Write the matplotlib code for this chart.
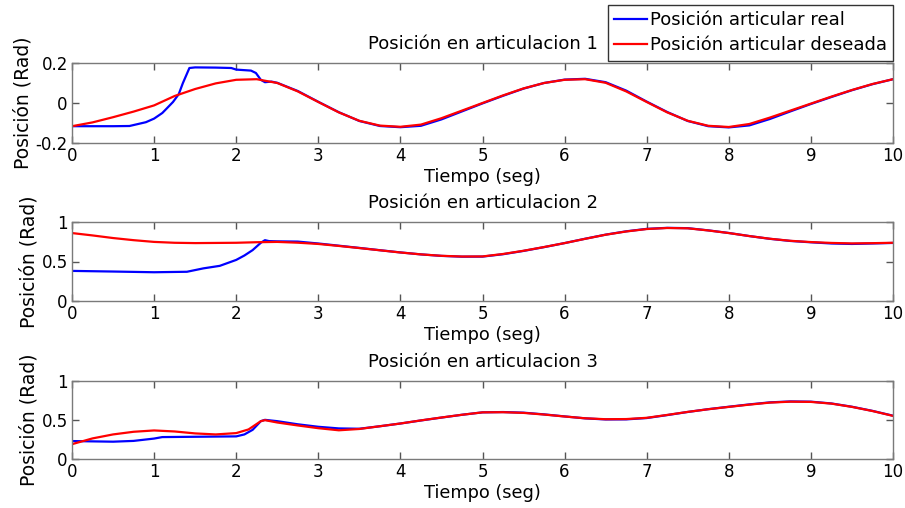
import numpy as np
import matplotlib
matplotlib.use("Agg")
import matplotlib.pyplot as plt

# ---------------- data ----------------
t_grid = [0, 0.25, 0.5, 0.75, 1.0, 1.25, 1.5, 1.75, 2.0, 2.25, 2.5, 2.75, 3.0, 3.25, 3.5,
          3.75, 4.0, 4.25, 4.5, 4.75, 5.0, 5.25, 5.5, 5.75, 6.0, 6.25, 6.5, 6.75, 7.0,
          7.25, 7.5, 7.75, 8.0, 8.25, 8.5, 8.75, 9.0, 9.25, 9.5, 9.75, 10.0]

# Joint 1
des1 = [-0.116, -0.097, -0.071, -0.043, -0.012, 0.035, 0.070, 0.098, 0.116, 0.119, 0.100,
        0.058, 0.005, -0.047, -0.089, -0.113, -0.119, -0.108, -0.076, -0.038, 0.000,
        0.038, 0.073, 0.100, 0.116, 0.119, 0.101, 0.058, 0.005, -0.047, -0.089, -0.114,
        -0.120, -0.105, -0.073, -0.038, -0.003, 0.032, 0.065, 0.095, 0.119]
t_real1 = [0, 0.25, 0.5, 0.7, 0.9, 1.0, 1.1, 1.15, 1.23, 1.3, 1.35, 1.43, 1.5, 1.75, 1.94,
           2.0, 2.18, 2.24, 2.3, 2.35, 2.43, 2.5, 2.75, 3.0, 3.25, 3.5, 3.75, 4.0, 4.25,
           4.5, 4.75, 5.0, 5.25, 5.5, 5.75, 6.0, 6.25, 6.5, 6.75, 7.0, 7.25, 7.5, 7.75,
           8.0, 8.25, 8.5, 8.75, 9.0, 9.25, 9.5, 9.75, 10.0]
real1 = [-0.116, -0.116, -0.116, -0.115, -0.096, -0.078, -0.050, -0.029, 0.005, 0.044,
         0.099, 0.175, 0.178, 0.177, 0.175, 0.167, 0.162, 0.150, 0.116, 0.104, 0.107,
         0.101, 0.060, 0.006, -0.046, -0.090, -0.115, -0.121, -0.114, -0.082, -0.042,
         -0.002, 0.036, 0.072, 0.100, 0.117, 0.121, 0.104, 0.062, 0.007, -0.045, -0.090,
         -0.116, -0.122, -0.112, -0.080, -0.042, -0.005, 0.030, 0.064, 0.094, 0.119]

# Joint 2
des2 = [0.860, 0.830, 0.797, 0.770, 0.748, 0.737, 0.733, 0.735, 0.737, 0.744, 0.748,
        0.738, 0.722, 0.697, 0.670, 0.642, 0.614, 0.590, 0.572, 0.563, 0.564, 0.595,
        0.636, 0.683, 0.733, 0.787, 0.839, 0.880, 0.911, 0.924, 0.920, 0.893, 0.860,
        0.822, 0.788, 0.762, 0.746, 0.735, 0.729, 0.732, 0.737]
t_real2 = [0, 0.5, 1.0, 1.4, 1.6, 1.8, 2.0, 2.1, 2.2, 2.3, 2.35, 2.4, 2.5, 2.75, 3.0,
           3.25, 3.5, 3.75, 4.0, 4.25, 4.5, 4.75, 5.0, 5.25, 5.5, 5.75, 6.0, 6.25, 6.5,
           6.75, 7.0, 7.25, 7.5, 7.75, 8.0, 8.25, 8.5, 8.75, 9.0, 9.25, 9.5, 9.75, 10.0]
real2 = [0.381, 0.373, 0.364, 0.370, 0.413, 0.445, 0.520, 0.576, 0.644, 0.737, 0.770,
         0.758, 0.755, 0.752, 0.728, 0.700, 0.672, 0.643, 0.615, 0.590, 0.571, 0.561,
         0.562, 0.592, 0.634, 0.682, 0.733, 0.788, 0.840, 0.882, 0.913, 0.926, 0.922,
         0.894, 0.861, 0.822, 0.787, 0.760, 0.743, 0.728, 0.722, 0.728, 0.735]

# Joint 3
t_des3 = [0, 0.25, 0.5, 0.75, 1.0, 1.25, 1.5, 1.75, 2.0, 2.15, 2.3, 2.35, 2.5, 2.75, 3.0,
          3.25, 3.5, 3.75, 4.0, 4.25, 4.5, 4.75, 5.0, 5.25, 5.5, 5.75, 6.0, 6.25, 6.5,
          6.75, 7.0, 7.25, 7.5, 7.75, 8.0, 8.25, 8.5, 8.75, 9.0, 9.25, 9.5, 9.75, 10.0]
des3 = [0.190, 0.264, 0.315, 0.349, 0.366, 0.353, 0.328, 0.315, 0.332, 0.379, 0.485,
        0.498, 0.468, 0.430, 0.395, 0.368, 0.385, 0.420, 0.455, 0.495, 0.532, 0.567,
        0.598, 0.600, 0.591, 0.570, 0.545, 0.522, 0.510, 0.512, 0.528, 0.565, 0.604,
        0.638, 0.668, 0.697, 0.723, 0.735, 0.732, 0.710, 0.668, 0.615, 0.553]
t_real3 = [0, 0.5, 0.75, 1.0, 1.1, 1.5, 2.0, 2.1, 2.2, 2.3, 2.35, 2.5, 2.75, 3.0, 3.25,
           3.5, 3.75, 4.0, 4.25, 4.5, 4.75, 5.0, 5.25, 5.5, 5.75, 6.0, 6.25, 6.5, 6.75,
           7.0, 7.25, 7.5, 7.75, 8.0, 8.25, 8.5, 8.75, 9.0, 9.25, 9.5, 9.75, 10.0]
real3 = [0.230, 0.222, 0.232, 0.262, 0.281, 0.285, 0.290, 0.315, 0.374, 0.485, 0.502,
         0.485, 0.445, 0.413, 0.392, 0.388, 0.420, 0.455, 0.494, 0.531, 0.567, 0.598,
         0.602, 0.594, 0.572, 0.546, 0.521, 0.507, 0.508, 0.525, 0.563, 0.603, 0.639,
         0.670, 0.700, 0.726, 0.738, 0.735, 0.712, 0.670, 0.617, 0.555]

titles = ["Posición en articulacion 1", "Posición en articulacion 2", "Posición en articulacion 3"]
ylims = [(-0.2, 0.2), (0, 1), (0, 1)]
yticks = [[-0.2, 0, 0.2], [0, 0.5, 1], [0, 0.5, 1]]
yticklabels = [["-0.2", "0", "0.2"], ["0", "0.5", "1"], ["0", "0.5", "1"]]
xticks = list(range(0, 11))
legend_labels = ["Posición articular real", "Posición articular deseada"]

# ---------------- figure ----------------
W, H = 905, 508
fig = plt.figure(figsize=(W / 100, H / 100), dpi=100)
fig.patch.set_facecolor("white")

# axes boxes in pixels: (left, top, right, bottom)
boxes = [(72, 63, 893, 143), (72, 222, 893, 301), (72, 381, 893, 459)]

series = [
    ((t_real1, real1), (t_grid, des1)),
    ((t_real2, real2), (t_grid, des2)),
    ((t_real3, real3), (t_des3, des3)),
]

for i, (l, tp, r, b) in enumerate(boxes):
    ax = fig.add_axes([l / W, 1 - b / H, (r - l) / W, (b - tp) / H])
    (tr, yr), (td, yd) = series[i]
    h1, = ax.plot(tr, yr, color="#0000ff", lw=1.6, label=legend_labels[0])
    h2, = ax.plot(td, yd, color="#ff0000", lw=1.6, label=legend_labels[1])
    ax.set_xlim(0, 10)
    ax.set_ylim(*ylims[i])
    ax.set_xticks(xticks)
    ax.set_yticks(yticks[i])
    ax.set_yticklabels(yticklabels[i])
    for s in ax.spines.values():
        s.set_color("#7a7a7a")
        s.set_linewidth(1.0)
    ax.tick_params(direction="in", length=5, width=1.0, color="#555555",
                   top=True, right=True, labelsize=12, pad=3, labelcolor="black")
    ax.set_title(titles[i], fontsize=13, pad=10)
    ax.set_xlabel("Tiempo (seg)", fontsize=12.8, labelpad=2)
    ax.set_ylabel("Posición (Rad)", fontsize=13.5, labelpad=2)
    if i == 0:
        handles = [h1, h2]

leg = fig.legend(handles, legend_labels, loc="upper right",
                 bbox_to_anchor=(893 / W, 1 - 5 / H), fontsize=13,
                 frameon=True, fancybox=False, framealpha=1, edgecolor="#333333",
                 borderpad=0.35, labelspacing=0.38, handlelength=1.8,
                 handletextpad=0.15, borderaxespad=0)
leg.get_frame().set_linewidth(1.0)

fig.savefig("out.png", dpi=100, facecolor="white")
